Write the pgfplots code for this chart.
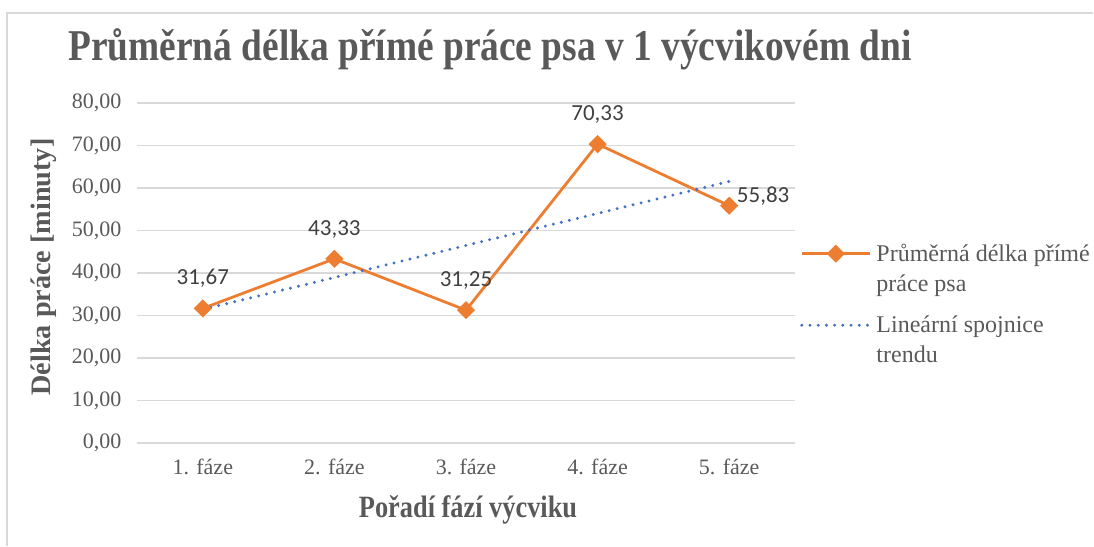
\documentclass[border=0pt]{standalone}
\usepackage{fontspec}
\setmainfont{Liberation Serif}
\newfontfamily\titlefont{Liberation Serif}[FakeStretch=0.85]
\newfontfamily\calibri{Carlito}
\usepackage{pgfplots}
\pgfplotsset{compat=1.18}
\definecolor{orangeC}{HTML}{ED7D31}
\definecolor{blueC}{HTML}{4472C4}
\definecolor{gridC}{HTML}{D9D9D9}
\definecolor{textC}{HTML}{595959}
\definecolor{labC}{HTML}{404040}
\pgfplotstableread{
x y
1 31.67
2 43.33
3 31.25
4 70.33
5 55.83
}\datatable
\begin{document}
\begin{tikzpicture}
\path[use as bounding box] (0pt,0pt) rectangle (1094pt,546pt);
\draw[gridC, line width=1.5pt] (7pt,0pt) -- (7pt,533pt) -- (1093pt,533pt);
\node[font=\titlefont\bfseries\fontsize{44}{48}\selectfont, text=textC] at (490pt,497pt) {Průměrná délka přímé práce psa v 1 výcvikovém dni};
\node[font=\bfseries\fontsize{28.2}{32}\selectfont, text=textC, rotate=90] at (44pt,279pt) {Délka práce [minuty]};
\node[font=\titlefont\bfseries\fontsize{31}{33}\selectfont, text=textC] at (468pt,36pt) {Pořadí fází výcviku};
\begin{axis}[at={(137pt,103pt)}, anchor=south west, scale only axis,
  width=658pt, height=340pt,
  xmin=0.5, xmax=5.5, ymin=0, ymax=80,
  ytick={0,10,...,80}, xtick={1,2,3,4,5},
  xticklabels={1. fáze,2. fáze,3. fáze,4. fáze,5. fáze},
  ymajorgrids, grid style={gridC, line width=1.3pt},
  axis line style={draw=none}, major tick length=0pt,
  /pgf/number format/assume math mode=true,
  yticklabel style={font=\fontsize{22}{24}\selectfont, text=textC, /pgf/number format/.cd, fixed, fixed zerofill, precision=2, use comma, 1000 sep={}},
  xticklabel style={font=\fontsize{22}{24}\selectfont, text=textC},
  yticklabel shift=12pt, xticklabel shift=12pt,
  clip=false,
  legend cell align=left,
  legend style={at={(1.003,0.597)}, anchor=north west, draw=none, fill=none,
    font=\fontsize{24}{30}\selectfont, text=textC,
    row sep=49pt, /tikz/every odd column/.append style={column sep=3pt}},
  legend image code/.code={\draw[mark repeat=2,mark phase=2,#1] plot coordinates {(0pt,0pt) (34pt,0pt) (68pt,0pt)};},
]
\addplot[orangeC, line width=2.8pt, mark=square*, mark size=5pt, mark options={rotate=45, solid},
  nodes near coords, point meta=y,
  every node near coord/.append style={font=\calibri\fontsize{23}{26}\selectfont, text=labC,
    /pgf/number format/.cd, fixed, fixed zerofill, precision=2, use comma, assume math mode=true},
  coordinate style/.condition={\coordindex<4}{anchor=south, yshift=16pt},
  coordinate style/.condition={\coordindex==4}{anchor=west, xshift=3pt, yshift=10pt},
] table[x=x, y=y] {\datatable};
\addlegendentry{\vtop{\hbox{Průměrná délka přímé}\hbox{práce psa}}}
\addplot[blueC, line width=3.3pt, dash pattern=on 0pt off 8.2pt, line cap=round] coordinates {(1,31.418) (5,61.546)};
\addlegendentry{\vtop{\hbox{Lineární spojnice}\hbox{trendu}}}
\end{axis}
\end{tikzpicture}
\end{document}
